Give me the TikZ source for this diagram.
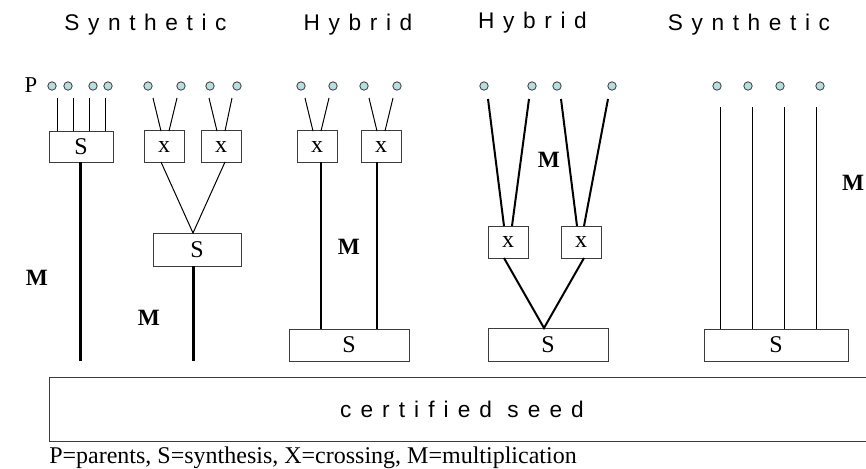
\documentclass[tikz,border=0pt]{standalone}
\usepackage{fontspec}
\setmainfont{Liberation Serif}
\newfontfamily\titlefont[LetterSpace=38]{Liberation Sans}
\newfontfamily\seedfont[LetterSpace=40]{Liberation Sans}
\definecolor{dotfill}{RGB}{182,222,222}
\definecolor{boxline}{RGB}{60,60,60}
\tikzset{
  parent/.style={circle,draw=boxline,fill=dotfill,line width=0.6pt,minimum size=6.3pt,inner sep=0pt},
  gbox/.style={draw=boxline,line width=0.75pt,inner sep=0pt,font=\fontsize{18}{20}\selectfont},
  xbox/.style={gbox,minimum width=30pt,minimum height=23.5pt},
  title/.style={anchor=base,font=\titlefont\fontsize{17}{19}\selectfont},
  mlab/.style={font=\bfseries\fontsize{17.5}{20}\selectfont},
  thin/.style={line width=0.75pt},
  medium/.style={line width=1.5pt},
  thick3/.style={line width=2.25pt}
}
\begin{document}
\begin{tikzpicture}[x=0.75pt,y=-0.75pt]
\clip (0,0) rectangle (866,468);
\useasboundingbox (0,0) rectangle (866,468);
% titles
\node[title] (t1) at (145.5,30) {Synthetic};
\node[title] (t2) at (358,30) {Hybrid};
\node[title] (t3) at (532.5,28) {Hybrid};
\node[title] (t4) at (749,30) {Synthetic};
\node[font=\fontsize{17}{19}\selectfont] (P) at (31,85) {P};
% parents
\foreach \n/\x in {a1/52,a2/68,a3/93,a4/108,
                   b1/148,b2/181,b3/210,b4/237,
                   c1/301,c2/333,c3/364,c4/397,
                   d1/484,d2/532,d3/557,d4/612,
                   e1/717,e2/748,e3/780,e4/820}
  \node[parent] (\n) at (\x,86) {};
% boxes
\node[gbox,minimum width=48pt,minimum height=23.25pt] (S1) at (81,146.5) {S};
\node[xbox] (X1) at (164,146.5) {x};
\node[xbox] (X2) at (221,146.5) {x};
\node[gbox,minimum width=66pt,minimum height=24.75pt] (S2) at (197,249.5) {S};
\node[xbox] (X3) at (317,146.5) {x};
\node[xbox] (X4) at (381,146.5) {x};
\node[gbox,minimum width=90pt,minimum height=24pt] (S3) at (349,345) {S};
\node[xbox,minimum height=24pt] (X5) at (508,242) {x};
\node[xbox,minimum height=24pt] (X6) at (581,242) {x};
\node[gbox,minimum width=90pt,minimum height=24.75pt] (S4) at (548,344.5) {S};
\node[gbox,minimum width=108pt,minimum height=24pt] (S5) at (776,345) {S};
\node[gbox,minimum width=615pt,minimum height=48pt,anchor=north west] (seed) at (49,377) {};
\node[font=\seedfont\fontsize{17}{19}\selectfont] (seedtxt) at (462,409) {certified seed};
% coordinates for line ends
\coordinate (a1t) at (57,98);  \coordinate (a1b) at (57,131);
\coordinate (a2t) at (73,98);  \coordinate (a2b) at (73,131);
\coordinate (a3t) at (89,98);  \coordinate (a3b) at (89,131);
\coordinate (a4t) at (105,98); \coordinate (a4b) at (105,131);
\coordinate (m1t) at (80,162); \coordinate (m1b) at (80,361);
\coordinate (b1t) at (153,98); \coordinate (b1b) at (161,131);
\coordinate (b2t) at (177,98); \coordinate (b2b) at (169,131);
\coordinate (b3t) at (209,98); \coordinate (b3b) at (217,131);
\coordinate (b4t) at (232,98); \coordinate (b4b) at (225,131);
\coordinate (x1o) at (161,162); \coordinate (x2o) at (225,162);
\coordinate (s2i) at (193,233);
\coordinate (m2t) at (193,266); \coordinate (m2b) at (193,361);
\coordinate (c1t) at (305,98); \coordinate (c1b) at (313,131);
\coordinate (c2t) at (329,98); \coordinate (c2b) at (321,131);
\coordinate (c3t) at (369,98); \coordinate (c3b) at (377,131);
\coordinate (c4t) at (393,98); \coordinate (c4b) at (385,131);
\coordinate (x3o) at (321,162); \coordinate (s3a) at (321,329);
\coordinate (x4o) at (377,162); \coordinate (s3b) at (377,329);
\coordinate (d1t) at (488,99); \coordinate (d1b) at (504,226);
\coordinate (d2t) at (529,99); \coordinate (d2b) at (512,226);
\coordinate (d3t) at (561,99); \coordinate (d3b) at (577,226);
\coordinate (d4t) at (608,99); \coordinate (d4b) at (584,226);
\coordinate (x5o) at (504,258); \coordinate (x6o) at (584,258);
\coordinate (s4i) at (544,328);
\foreach \n/\x in {1/720,2/752,3/784,4/816}{
  \coordinate (e\n t) at (\x,107); \coordinate (e\n b) at (\x,329);}
% connectors
\draw[thin] (a1t) -- (a1b); \draw[thin] (a2t) -- (a2b);
\draw[thin] (a3t) -- (a3b); \draw[thin] (a4t) -- (a4b);
\draw[thick3] (m1t) -- (m1b);
\draw[thin] (b1t) -- (b1b); \draw[thin] (b2t) -- (b2b);
\draw[thin] (b3t) -- (b3b); \draw[thin] (b4t) -- (b4b);
\draw[thin] (x1o) -- (s2i) -- (x2o);
\draw[thick3] (m2t) -- (m2b);
\draw[thin] (c1t) -- (c1b); \draw[thin] (c2t) -- (c2b);
\draw[thin] (c3t) -- (c3b); \draw[thin] (c4t) -- (c4b);
\draw[medium] (x3o) -- (s3a); \draw[medium] (x4o) -- (s3b);
\draw[medium] (d1t) -- (d1b); \draw[medium] (d2t) -- (d2b);
\draw[medium] (d3t) -- (d3b); \draw[medium] (d4t) -- (d4b);
\draw[medium] (x5o) -- (s4i) -- (x6o);
\foreach \n in {1,2,3,4} \draw[thin] (e\n t) -- (e\n b);
% M labels
\node[mlab] (M1) at (37,278) {M};
\node[mlab] (M2) at (149,318) {M};
\node[mlab] (M3) at (349,247) {M};
\node[mlab] (M4) at (549,160) {M};
\node[mlab] (M5) at (853,183) {M};
% caption
\node[anchor=base west,inner sep=0pt,font=\fontsize{18}{20}\selectfont] (cap) at (49,463)
  {P=parents, S=synthesis, X=crossing, M=multiplication};
\end{tikzpicture}
\end{document}
